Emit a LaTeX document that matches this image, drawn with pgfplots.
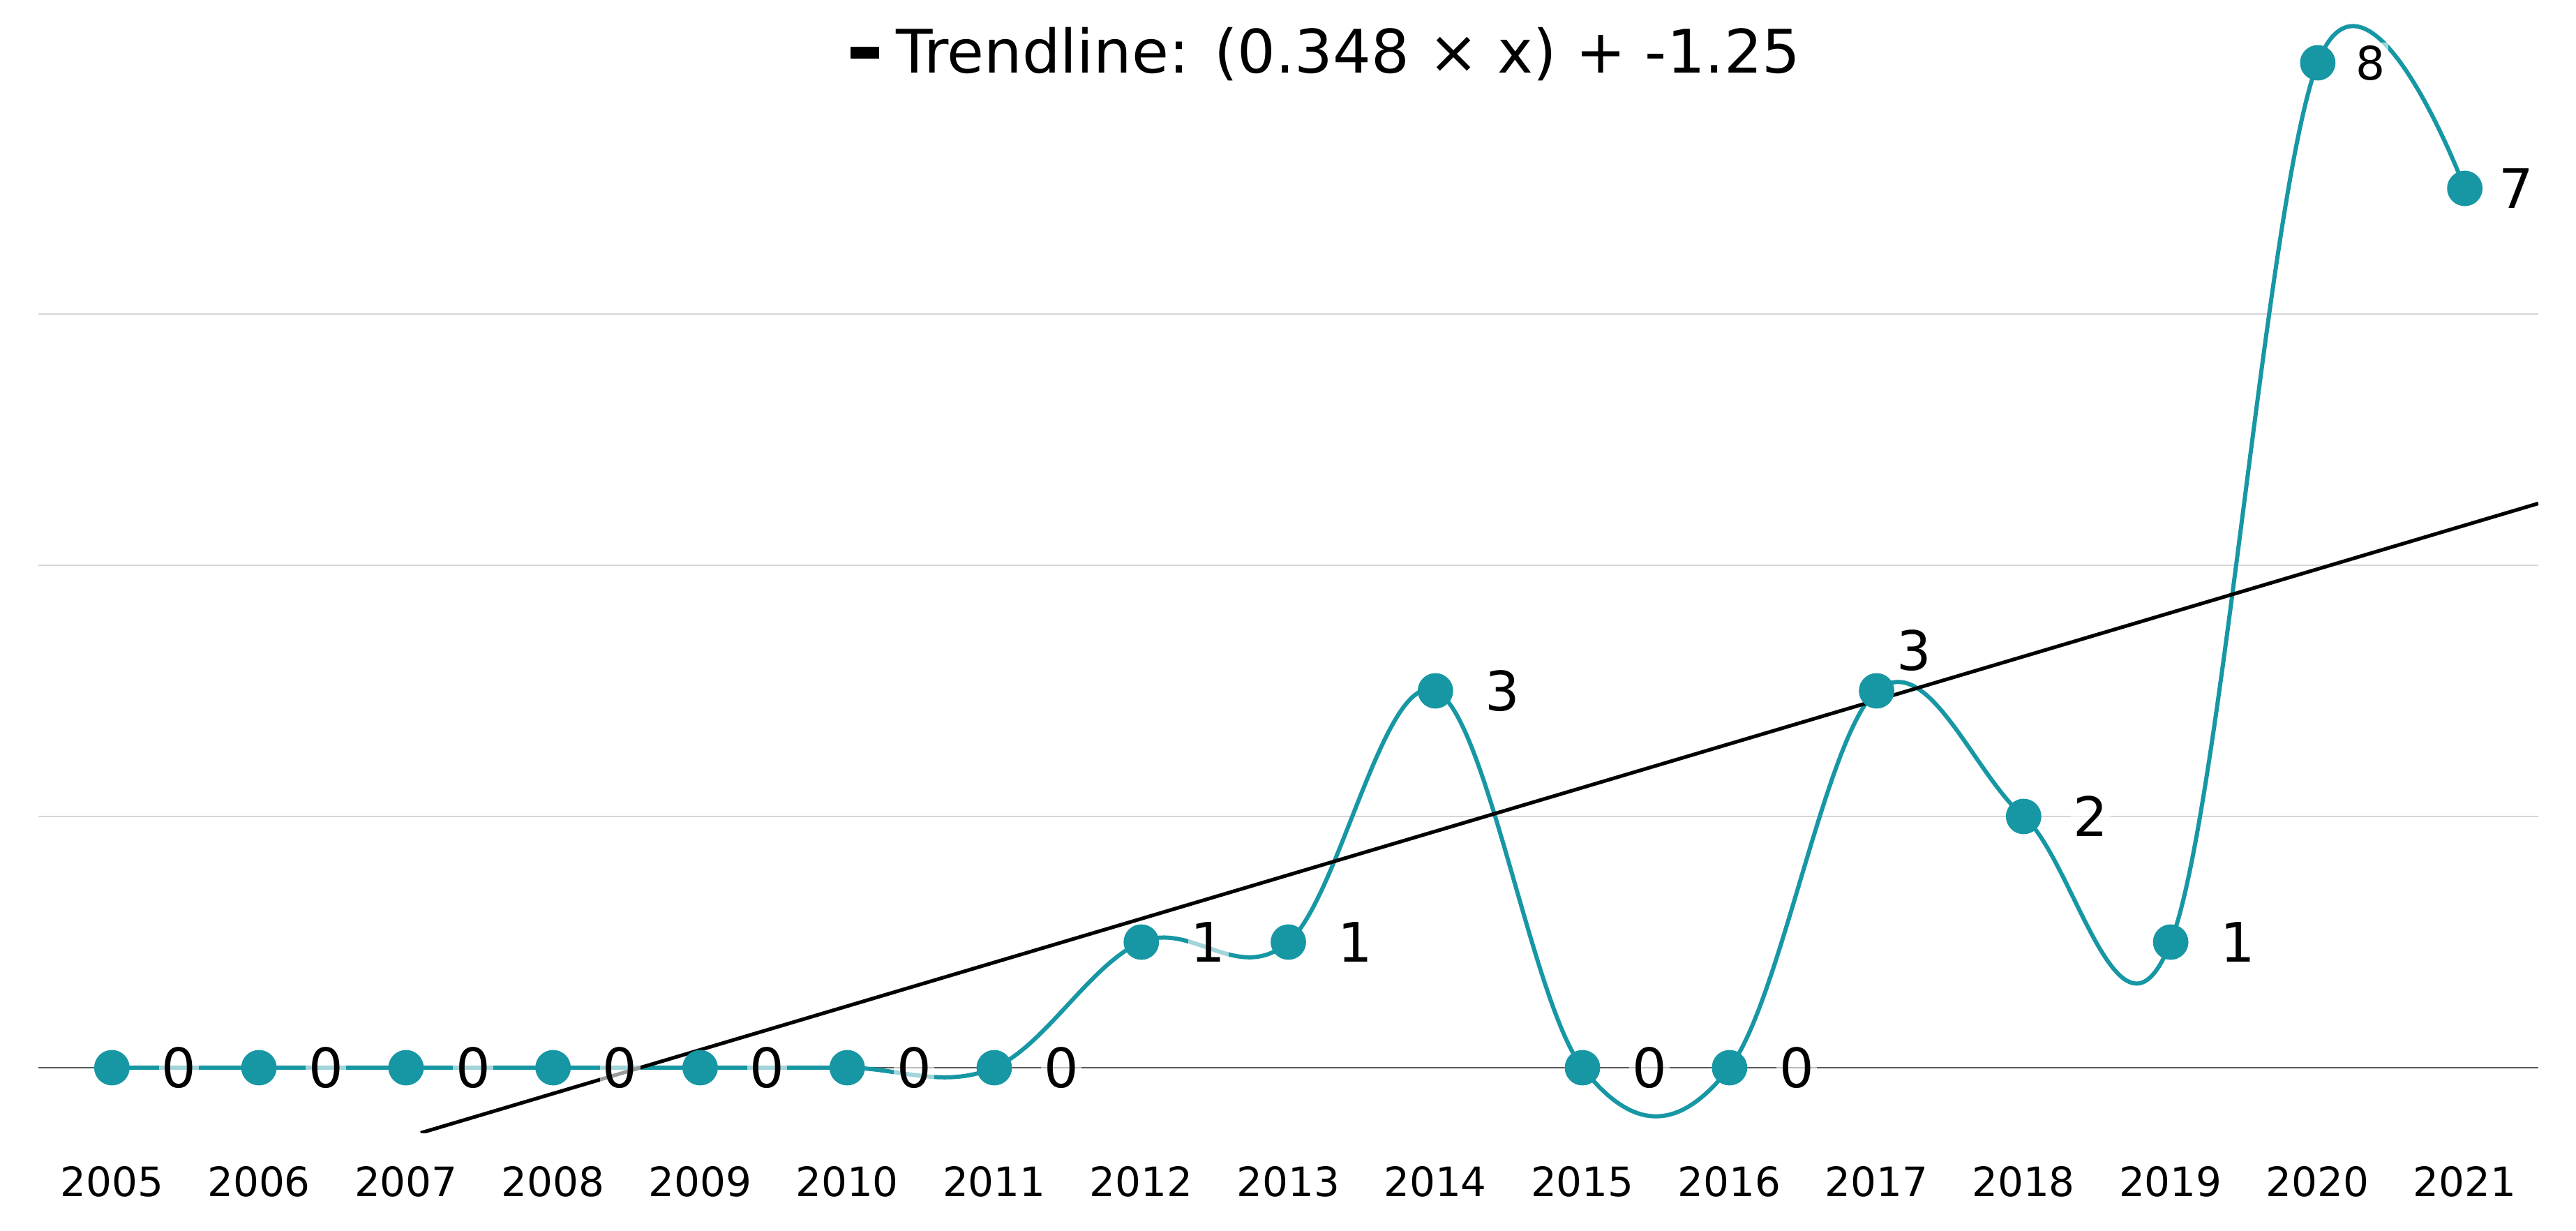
\documentclass[border=0pt]{standalone}
\usepackage{fontspec}
\setmainfont{DejaVu Sans}
\usepackage{pgfplots}
\pgfplotsset{compat=1.18}
\definecolor{teal1}{HTML}{1797A4}
\definecolor{gridc}{HTML}{D6D6D6}
\definecolor{zeroc}{HTML}{5A5A5A}
\begin{document}
\begin{tikzpicture}
\path[use as bounding box] (-13.75pt,-35.1pt) rectangle (909.25pt,405.9pt);
\begin{axis}[
  scale only axis, width=895.75pt, height=403.65pt,
  xmin=2004.5, xmax=2021.5, ymin=-0.52, ymax=8.45,
  axis line style={draw=none},
  xtick={2005,...,2021}, ytick={2,4,6}, yticklabels={},
  major tick length=0pt,
  ymajorgrids, grid style={gridc, line width=0.7pt},
  extra y ticks={0}, extra y tick labels={},
  extra y tick style={grid style={zeroc, line width=0.6pt}},
  /pgf/number format/.cd, 1000 sep={}, assume math mode=true, /pgfplots/.cd,
  xticklabel style={font=\fontsize{14.5}{17}\selectfont, yshift=-8.5pt},
  legend style={draw=none, fill=none, at={(0.516,0.959)}, anchor=center,
    font=\fontsize{21.5}{25}\selectfont, inner sep=0pt, column sep=4pt},
  legend image code/.code={\fill[black] (0pt,-1.5pt) rectangle (9pt,1.5pt);},
]
\addplot[teal1, line width=1.5pt, smooth, tension=0.62, mark=*, mark size=5.6pt,
  mark options={fill=teal1, draw=teal1}, forget plot] coordinates {
  (2005,0) (2006,0) (2007,0) (2008,0) (2009,0) (2010,0) (2011,0) (2012,1)
  (2013,1) (2014,3) (2015,0) (2016,0) (2017,3) (2018,2) (2019,1) (2020,8) (2021,7)};
\addplot[black, line width=1.3pt] coordinates {(2007.1,-0.5192) (2021.5,4.492)};
\addlegendentry{Trendline: (0.348 × x) + -1.25}
\addplot[draw=none, mark=none, forget plot, nodes near coords,
  nodes near coords style={font=\fontsize{19.5}{22}\selectfont, anchor=center,
    xshift=24pt, fill=white, fill opacity=0.6, text opacity=1, inner sep=1pt}]
  coordinates {(2005,0) (2006,0) (2007,0) (2008,0) (2009,0) (2010,0) (2011,0)
  (2012,1) (2013,1) (2014,3) (2015,0) (2016,0) (2018,2) (2019,1)};
\addplot[draw=none, mark=none, forget plot, nodes near coords,
  nodes near coords style={font=\fontsize{19.5}{22}\selectfont, anchor=center,
    xshift=18.5pt, fill=white, fill opacity=0.6, text opacity=1, inner sep=1pt}]
  coordinates {(2021,7)};
\addplot[draw=none, mark=none, forget plot, nodes near coords,
  nodes near coords style={font=\fontsize{16.5}{19}\selectfont, anchor=center,
    xshift=19pt, fill=white, fill opacity=0.6, text opacity=1, inner sep=1pt}]
  coordinates {(2020,8)};
\addplot[draw=none, mark=none, forget plot, nodes near coords,
  nodes near coords style={font=\fontsize{19.5}{22}\selectfont, anchor=center,
    xshift=13.5pt, yshift=14.5pt, fill=white, fill opacity=0.6, text opacity=1, inner sep=1pt}]
  coordinates {(2017,3)};
\end{axis}
\end{tikzpicture}
\end{document}
